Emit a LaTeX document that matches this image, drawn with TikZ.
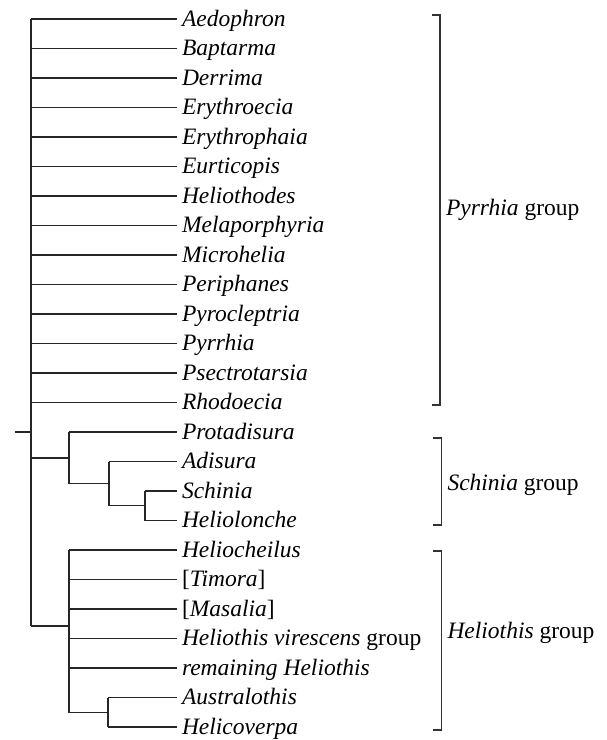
\documentclass[tikz,border=0pt]{standalone}
\usepackage{fontspec}
\setmainfont{Liberation Serif}
\begin{document}
\begin{tikzpicture}[x=1pt,y=-1pt,
  br/.style={line width=1.3pt, draw=black!85},
  brk/.style={line width=1.5pt, draw=black!80},
  leaf/.style={anchor=west, inner xsep=5pt, inner ysep=0pt, outer sep=0pt, text height=16pt, text depth=2pt, font=\fontsize{23.5}{28}\selectfont\itshape},
  grp/.style={anchor=west, inner xsep=6pt, inner ysep=0pt, outer sep=0pt, text height=16pt, text depth=2pt, font=\fontsize{23.5}{28}\selectfont}]
\useasboundingbox (0,0) rectangle (607,740);
% leaves
\foreach \i/\t in {0/Aedophron,1/Baptarma,2/Derrima,3/Erythroecia,4/Erythrophaia,5/Eurticopis,6/Heliothodes,7/Melaporphyria,8/Microhelia,9/Periphanes,10/Pyrocleptria,11/Pyrrhia,12/Psectrotarsia,13/Rhodoecia,14/Protadisura,15/Adisura,16/Schinia,17/Heliolonche,18/Heliocheilus,19/{\upshape[}Timora{\upshape]},20/{\upshape[}Masalia{\upshape]},21/Heliothis virescens {\upshape group},22/remaining Heliothis,23/Australothis,24/Helicoverpa}
  \node[leaf] (l\i) at (177,{19+29.5*\i}) {\t};
% coordinates of internal nodes
\coordinate (root) at (15,432);
\coordinate (m) at (31,432);
\coordinate (mtop) at (31,19);
\coordinate (mbot) at (31,626);
\coordinate (s1) at (69,458);
\coordinate (s2) at (109,483.5);
\coordinate (s3) at (145,505.75);
\coordinate (h1) at (69,626);
\coordinate (h2) at (108,712.75);
% main stem
\draw[br] (root) -- (m);
\draw[br] (mtop) -- (mbot);
\foreach \i in {0,...,13} \draw[br] (mtop |- l\i.west) -- (l\i.west);
% Schinia clade
\draw[br] (mtop |- s1) -- (s1);
\draw[br] (s1 |- l14.west) -- (s1 |- s2) -- (s2);
\draw[br] (s1 |- l14.west) -- (l14.west);
\draw[br] (s2 |- l15.west) -- (s2 |- s3) -- (s3);
\draw[br] (s2 |- l15.west) -- (l15.west);
\draw[br] (s3 |- l16.west) -- (s3 |- l17.west);
\draw[br] (s3 |- l16.west) -- (l16.west);
\draw[br] (s3 |- l17.west) -- (l17.west);
% Heliothis clade
\draw[br] (mbot) -- (h1);
\draw[br] (h1 |- l18.west) -- (h1 |- h2) -- (h2);
\foreach \i in {18,...,22} \draw[br] (h1 |- l\i.west) -- (l\i.west);
\draw[br] (h2 |- l23.west) -- (h2 |- l24.west);
\draw[br] (h2 |- l23.west) -- (l23.west);
\draw[br] (h2 |- l24.west) -- (l24.west);
% brackets and group labels
\node[grp] (gp) at (440,208) {\itshape Pyrrhia\upshape\ group};
\node[grp] (gs) at (441.5,483) {\itshape Schinia\upshape\ group};
\node[grp] (gh) at (441.5,631) {\itshape Heliothis\upshape\ group};
\draw[brk] (432,15) -- (gp.west |- 0,15) -- (gp.west |- 0,405) -- (432,405);
\draw[brk] (433,438) -- (gs.west |- 0,438) -- (gs.west |- 0,525) -- (433,525);
\draw[brk] (433,551) -- (gh.west |- 0,551) -- (gh.west |- 0,730) -- (433,730);
\end{tikzpicture}
\end{document}
